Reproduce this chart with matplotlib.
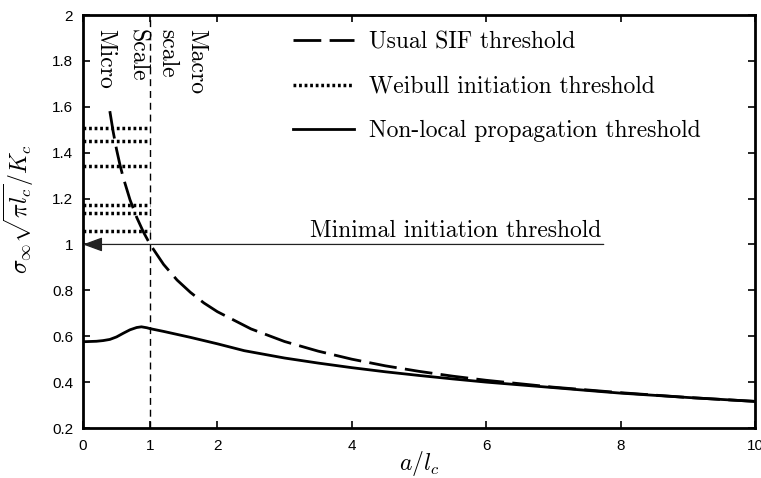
import matplotlib
matplotlib.use('Agg')
import matplotlib.pyplot as plt

plt.rcParams['mathtext.fontset'] = 'cm'

# usual SIF threshold
a_sif = [0.4, 0.45, 0.5, 0.55, 0.6, 0.7, 0.8, 0.9, 1.0, 1.2, 1.4, 1.6, 1.8, 2.0,
         2.5, 3.0, 3.5, 4.0, 4.5, 5.0, 5.5, 6.0, 7.0, 8.0, 9.0, 10.0]
s_sif = [1.581, 1.491, 1.414, 1.348, 1.291, 1.195, 1.118, 1.054, 1.0, 0.913,
         0.845, 0.791, 0.745, 0.707, 0.632, 0.577, 0.535, 0.5, 0.471, 0.447,
         0.426, 0.408, 0.378, 0.354, 0.333, 0.316]

# non-local propagation threshold
a_nl = [0.0, 0.1, 0.2, 0.3, 0.4, 0.5, 0.55, 0.6, 0.7, 0.8, 0.87, 0.95, 1.0,
        1.2, 1.4, 1.6, 2.0, 2.4, 3.0, 3.5, 4.0, 4.5, 5.0, 5.5, 6.0, 7.0, 7.7,
        8.0, 9.0, 10.0]
s_nl = [0.576, 0.577, 0.578, 0.581, 0.586, 0.597, 0.605, 0.613, 0.628, 0.638,
        0.641, 0.637, 0.633, 0.621, 0.608, 0.595, 0.567, 0.537, 0.505, 0.483,
        0.463, 0.445, 0.429, 0.414, 0.400, 0.376, 0.359, 0.352, 0.333, 0.316]

# Weibull initiation thresholds (micro scale, 0 < a < lc)
weibull_levels = [1.509, 1.452, 1.342, 1.173, 1.136, 1.060]

scale_labels = ['Micro', 'Scale', 'scale', 'Macro']
scale_x = [0.33, 0.80, 1.26, 1.68]

xticks = [0, 1, 2, 4, 6, 8, 10]
yticks = [0.2, 0.4, 0.6, 0.8, 1.0, 1.2, 1.4, 1.6, 1.8, 2.0]
ytick_labels = ['0.2', '0.4', '0.6', '0.8', '1', '1.2', '1.4', '1.6', '1.8', '2']

fig = plt.figure(figsize=(7.61, 4.78), dpi=100)
ax = fig.add_axes([0.109, 0.1046, 0.883, 0.864])

cm = 'cmr10'

ax.plot(a_sif, s_sif, color='k', lw=2, dashes=(10, 3),
        label='Usual SIF threshold')
for i, lev in enumerate(weibull_levels):
    ax.plot([0, 1], [lev, lev], color='k', lw=2.5, linestyle=(0, (0.8, 0.8)),
            label='Weibull initiation threshold' if i == 0 else None)
ax.plot(a_nl, s_nl, color='k', lw=2, label='Non-local propagation threshold')

ax.plot([1, 1], [0.2, 2], color='k', lw=1, dashes=(5, 3.5))

ax.annotate('', xy=(0, 1), xytext=(7.75, 1),
            arrowprops=dict(arrowstyle='-|>,head_length=0.6,head_width=0.22',
                            lw=0.9, color='#222222',
                            mutation_scale=20, shrinkA=0, shrinkB=0))
ax.text(7.72, 1.012, 'Minimal initiation threshold', ha='right', va='bottom',
        fontsize=17, family=cm)

for lab, xx in zip(scale_labels, scale_x):
    ax.text(xx, 1.94, lab, rotation=-90, ha='center', va='top',
            fontsize=17, family=cm)

ax.set_xlim(0, 10)
ax.set_ylim(0.2, 2)
ax.set_xticks(xticks)
ax.set_xticklabels([str(t) for t in xticks])
ax.set_yticks(yticks)
ax.set_yticklabels(ytick_labels)
for lbl in ax.get_xticklabels() + ax.get_yticklabels():
    lbl.set_family('Liberation Sans')
    lbl.set_fontsize(11)
ax.tick_params(direction='in', length=5, width=1.2, top=True, right=True)
ax.tick_params(axis='x', pad=8)
ax.tick_params(axis='y', pad=7)
for sp in ax.spines.values():
    sp.set_linewidth(2)

ax.set_xlabel(r'$a/l_c$', fontsize=17, va='top')
ax.xaxis.set_label_coords(0.5, -0.052)
ax.set_ylabel(r'$\sigma_\infty\sqrt{\pi l_c}/K_c$', fontsize=17)
ax.yaxis.set_label_coords(-0.07, 0.53)

leg = ax.legend(loc='upper left', bbox_to_anchor=(0.312, 0.961), frameon=False,
                prop={'family': cm, 'size': 17}, handlelength=2.6,
                handletextpad=0.65, labelspacing=0.95, borderpad=0,
                borderaxespad=0)

fig.savefig('out.png', dpi=100)
